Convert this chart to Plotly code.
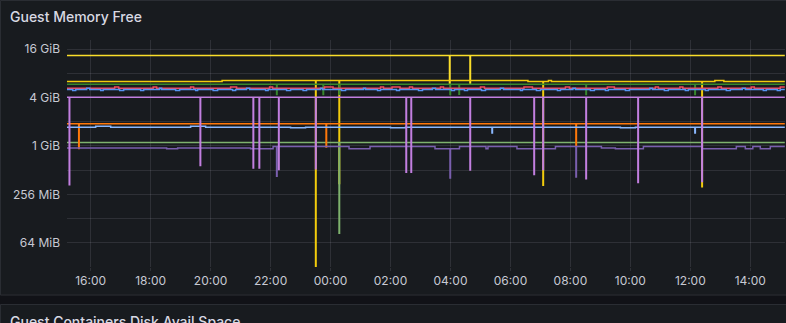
import math
import pandas as pd
import plotly.graph_objects as go

# ---------------- data (times "HH:MM"; times before 15:12 belong to the next day; values in GiB)
DAY0 = "2024-05-14"
DAY1 = "2024-05-15"
RANGE_START = "15:12:36"
RANGE_END = "15:09:24"
END_T = "15:09"

y_tick_exps = [25, 26, 27, 28, 29, 30, 31, 32, 33, 34]
y_tick_labels = ["", "64 MiB", "", "256 MiB", "", "1 GiB", "", "4 GiB", "", "16 GiB"]

yellow_top_t = ["15:12"]
yellow_top_v = [13.3]
yellow_top_dip_t = ["03:58", "04:39"]
yellow_top_dip_v = [6.0, 6.0]

yellow2_t = ["15:12", "20:23", "06:35", "07:16", "07:22", "12:49", "13:07"]
yellow2_v = [6.33, 6.5, 6.33, 6.5, 6.33, 6.5, 6.33]
yellow2_dip_t = ["23:30", "00:17", "07:05", "12:23"]
yellow2_dip_v = [0.018, 0.34, 0.325, 0.31]

green_t = ["15:12"]
green_v = [5.83]
green_dip_t = ["22:12", "23:45", "00:17", "03:59", "04:17", "08:31", "12:09"]
green_dip_v = [4.36, 4.36, 4.4, 4.36, 4.4, 4.36, 4.36]

red_t = ["15:12", "16:48", "16:56", "18:05", "18:12", "19:20", "19:26", "20:40", "20:52",
         "21:58", "22:04", "23:48", "00:05", "01:40", "01:46", "02:03", "02:19", "02:38",
         "02:44", "03:40", "03:46", "05:00", "05:08", "06:27", "06:44", "07:50", "07:58",
         "09:14", "09:28", "10:50", "10:56", "11:39", "11:45", "12:55", "13:02", "14:02",
         "14:08", "15:00"]
red_v = [5.19, 5.38, 5.19, 5.38, 5.19, 5.38, 5.19, 5.38, 5.19,
         5.38, 5.19, 5.38, 5.19, 5.38, 5.19, 5.38, 5.19, 5.38,
         5.19, 5.38, 5.19, 5.38, 5.19, 5.38, 5.19, 5.38, 5.19,
         5.38, 5.19, 5.38, 5.19, 5.38, 5.19, 5.38, 5.19, 5.38,
         5.19, 5.38]

blue_t = ["15:12", "15:24", "15:30", "15:52", "15:58", "16:20", "16:25", "16:58", "17:06",
          "17:40", "17:46", "18:18", "18:22", "18:50", "18:58", "19:30", "19:34", "20:05",
          "20:14", "20:44", "20:50", "21:12", "21:18", "21:50", "21:55", "22:32", "22:40",
          "23:05", "23:12", "23:40", "23:44", "00:22", "00:30", "01:06", "01:10", "01:34",
          "01:40", "02:12", "02:18", "02:56", "03:04", "03:24", "03:30", "04:02", "04:08",
          "04:28", "04:34", "05:02", "05:10", "05:40", "05:46", "06:20", "06:24", "06:52",
          "07:00", "07:34", "07:40", "08:05", "08:10", "08:40", "08:48", "09:10", "09:16",
          "09:50", "09:58", "10:39", "10:44", "11:08", "11:16", "11:50", "11:56", "12:30",
          "12:36", "13:12", "13:20", "13:44", "13:50", "14:26", "14:32", "14:54", "15:00"]
blue_v = [5.04, 4.88, 5.04, 5.2, 5.04, 4.88, 5.04, 4.88, 5.04,
          4.88, 5.04, 5.2, 5.04, 4.88, 5.04, 4.88, 5.04, 4.88,
          5.04, 4.88, 5.04, 5.2, 5.04, 4.88, 5.04, 4.88, 5.04,
          4.88, 5.04, 5.2, 5.04, 4.88, 5.04, 5.22, 5.04, 4.88,
          5.04, 4.88, 5.04, 4.88, 5.04, 5.2, 5.04, 4.88, 5.04,
          4.88, 5.04, 4.88, 5.04, 5.2, 5.04, 4.88, 5.04, 4.88,
          5.04, 4.88, 5.04, 5.22, 5.04, 4.88, 5.04, 4.88, 5.04,
          4.88, 5.04, 5.22, 5.04, 4.88, 5.04, 4.88, 5.04, 4.88,
          5.04, 4.88, 5.04, 5.2, 5.04, 4.88, 5.04, 4.88, 5.04]

purple_t = ["15:12"]
purple_v = [4.02]
purple_dip_t = ["15:17", "19:39", "21:25", "21:37", "22:16", "23:30", "02:31", "02:41",
                "04:39", "06:47", "07:05", "08:31", "10:15", "12:23"]
purple_dip_v = [0.33, 0.57, 0.53, 0.53, 0.51, 0.52, 0.47, 0.47,
                0.50, 0.44, 0.51, 0.39, 0.35, 0.36]

orange_t = ["15:12"]
orange_v = [1.89]
orange_dip_t = ["15:36", "23:51", "08:11"]
orange_dip_v = [0.93, 0.97, 0.98]

lightblue_t = ["15:12", "16:10", "16:40", "19:20", "19:50", "22:40", "23:10", "02:00",
               "02:30", "09:40", "10:10"]
lightblue_v = [1.71, 1.75, 1.71, 1.75, 1.71, 1.68, 1.71, 1.68, 1.71, 1.68, 1.71]
lightblue_dip_t = ["05:23", "12:09"]
lightblue_dip_v = [1.45, 1.45]

lightgreen_t = ["15:12"]
lightgreen_v = [1.10]
lightgreen_dip_t = ["00:17"]
lightgreen_dip_v = [0.082]

darkpurple_t = ["15:12", "18:32", "18:54", "21:20", "22:05", "00:37", "01:19", "03:29",
                "04:18", "05:11", "05:15", "06:13", "07:30", "09:02", "09:30", "10:26",
                "12:23", "13:32", "13:50", "14:05", "14:20", "14:40"]
darkpurple_v = [0.94, 0.92, 0.94, 0.92, 0.98, 0.92, 0.98, 0.92,
                0.98, 0.92, 0.98, 0.92, 0.98, 0.94, 0.92, 0.98,
                0.92, 0.98, 0.92, 0.98, 0.92, 0.98]
darkpurple_dip_t = ["22:12", "03:59", "08:11"]
darkpurple_dip_v = [0.42, 0.40, 0.41]

GIB = 2 ** 30


def ts(hm):
    day = DAY0 if hm >= "15:12" else DAY1
    return pd.Timestamp(f"{day} {hm}")


def build(base_t, base_v, dip_t, dip_v):
    base = [(ts(t), v) for t, v in zip(base_t, base_v)]
    base.sort(key=lambda p: p[0])

    def base_at(T):
        val = base[0][1]
        for bt, bv in base:
            if bt <= T:
                val = bv
        return val

    pts = list(base)
    for t, v in zip(dip_t, dip_v):
        T = ts(t)
        pts.append((T, v))
        pts.append((T + pd.Timedelta(minutes=1), base_at(T)))
    endT = ts(END_T)
    pts.append((endT, base_at(endT)))
    pts.sort(key=lambda p: p[0])
    return [p[0] for p in pts], [p[1] * GIB for p in pts]


series = [
    ("yellow_top", "#FADE2A", yellow_top_t, yellow_top_v, yellow_top_dip_t, yellow_top_dip_v),
    ("yellow2", "#F2CC0C", yellow2_t, yellow2_v, yellow2_dip_t, yellow2_dip_v),
    ("green", "#37872D", green_t, green_v, green_dip_t, green_dip_v),
    ("red", "#F2495C", red_t, red_v, [], []),
    ("blue", "#5794F2", blue_t, blue_v, [], []),
    ("lightgreen", "#7EB26D", lightgreen_t, lightgreen_v, lightgreen_dip_t, lightgreen_dip_v),
    ("orange", "#FF780A", orange_t, orange_v, orange_dip_t, orange_dip_v),
    ("lightblue", "#8AB8FF", lightblue_t, lightblue_v, lightblue_dip_t, lightblue_dip_v),
    ("darkpurple", "#7A5FAE", darkpurple_t, darkpurple_v, darkpurple_dip_t, darkpurple_dip_v),
    ("purple", "#C27FE0", purple_t, purple_v, purple_dip_t, purple_dip_v),
]

fig = go.Figure()
for name, color, bt, bv, dt, dv in series:
    x, y = build(bt, bv, dt, dv)
    fig.add_trace(go.Scatter(x=x, y=y, mode="lines", name=name, line_shape="hv",
                             line=dict(color=color, width=1.5), showlegend=False,
                             hoverinfo="skip"))

# ---------------- layout
W, H = 786, 323
ML, MR, MT, MB = 67, 1, 40, 56
PW, PH = W - ML - MR, H - MT - MB
PLOT_BOTTOM = H - MB


def xp(px):
    return (px - ML) / PW


def yp(py):
    return (PLOT_BOTTOM - py) / PH


PANEL = "#181b1f"
PAGE = "#111217"
BORDER = "#2a2d33"
GRID = "rgba(204,204,220,0.12)"
TEXT = "#c7c9d3"
FONT = "Inter"

shapes = [
    dict(type="rect", xref="paper", yref="paper", x0=xp(-5), x1=xp(800), y0=yp(295.5), y1=yp(304),
         fillcolor=PAGE, line=dict(width=0), layer="above"),
    dict(type="rect", xref="paper", yref="paper", x0=xp(0.5), x1=xp(800), y0=yp(295), y1=yp(0.5),
         fillcolor="rgba(0,0,0,0)", line=dict(color=BORDER, width=1), layer="above"),
    dict(type="rect", xref="paper", yref="paper", x0=xp(0.5), x1=xp(800), y0=yp(340), y1=yp(304.5),
         fillcolor=PANEL, line=dict(color=BORDER, width=1), layer="above"),
]

annotations = [
    dict(text="Guest Memory Free", xref="paper", yref="paper", x=xp(8), y=yp(16.5),
         xanchor="left", yanchor="middle", showarrow=False,
         font=dict(family=FONT, size=14, color="#d8d9e3", weight=500)),
    dict(text="Guest Containers Disk Avail Space", xref="paper", yref="paper", x=xp(8), y=yp(321),
         xanchor="left", yanchor="middle", showarrow=False,
         font=dict(family=FONT, size=14, color="#d8d9e3", weight=500)),
]

fig.update_layout(
    width=W, height=H,
    margin=dict(l=ML, r=MR, t=MT, b=MB, pad=0),
    paper_bgcolor=PANEL, plot_bgcolor=PANEL,
    font=dict(family=FONT, size=12, color=TEXT),
    shapes=shapes, annotations=annotations,
    xaxis=dict(
        type="date",
        range=[f"{DAY0} {RANGE_START}", f"{DAY1} {RANGE_END}"],
        tickformat="%H:%M", dtick=2 * 3600 * 1000, tick0=f"{DAY0} 16:00",
        showgrid=True, gridcolor=GRID, gridwidth=1, zeroline=False, showline=False,
        ticks="outside", ticklen=3, tickcolor=GRID,
        tickfont=dict(family=FONT, size=12, color=TEXT),
    ),
    yaxis=dict(
        type="log",
        range=[25 * math.log10(2), 34.3725 * math.log10(2)],
        tickmode="array",
        tickvals=[2 ** e for e in y_tick_exps], ticktext=y_tick_labels,
        showgrid=True, gridcolor=GRID, gridwidth=1, zeroline=False, showline=False,
        ticks="", ticklabelstandoff=6,
        tickfont=dict(family=FONT, size=12, color=TEXT),
    ),
)

fig.write_html("out.html")
